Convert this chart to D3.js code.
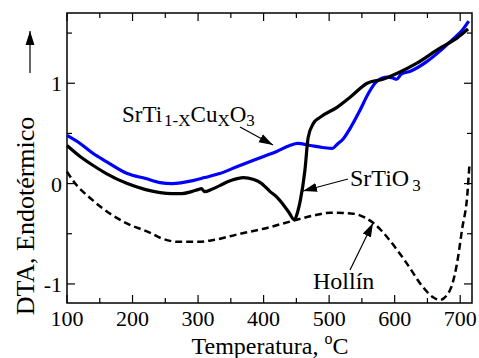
<!DOCTYPE html>
<html>
<head>
<meta charset="utf-8">
<script src="https://cdn.jsdelivr.net/npm/d3@7"></script>
<style>
  body { margin: 0; background: #fff; }
  svg { display: block; font-family: "Liberation Serif", "Times New Roman", serif; }
</style>
</head>
<body>
<div id="chart"></div>
<script>
// temperature (°C) and DTA signal
const cuTemp = [100, 120, 140, 160, 192, 220, 242, 260, 292, 310, 333, 360, 400, 420, 440, 452, 471, 490, 505, 512, 522, 532, 547, 560, 570, 580, 590, 598, 603, 610, 624, 650, 669, 689, 702, 713];
const cuDta  = [0.48, 0.40, 0.30, 0.22, 0.10, 0.05, 0.01, 0.00, 0.03, 0.06, 0.10, 0.17, 0.27, 0.32, 0.38, 0.40, 0.38, 0.36, 0.35, 0.39, 0.45, 0.55, 0.73, 0.90, 1.00, 1.05, 1.06, 1.05, 1.04, 1.09, 1.12, 1.22, 1.32, 1.44, 1.52, 1.62];

const stoTemp = [100, 120, 140, 160, 192, 220, 242, 260, 275, 290, 300, 305, 310, 320, 333, 350, 369, 385, 395, 410, 421, 430, 438, 447, 452, 456, 463, 468, 476, 486, 512, 532, 558, 582, 604, 634, 669, 695, 712];
const stoDta  = [0.38, 0.27, 0.18, 0.10, 0.00, -0.06, -0.09, -0.10, -0.10, -0.08, -0.06, -0.05, -0.08, -0.06, -0.02, 0.03, 0.06, 0.04, 0.01, -0.08, -0.14, -0.21, -0.28, -0.36, -0.28, -0.17, 0.13, 0.46, 0.60, 0.66, 0.76, 0.86, 1.00, 1.04, 1.10, 1.20, 1.35, 1.45, 1.54];

const hollinTemp = [100, 108, 140, 192, 227, 242, 270, 300, 325, 364, 400, 445, 475, 502, 537, 555, 567, 580, 593, 619, 643, 658, 669, 680, 688, 695, 703, 711, 714];
const hollinDta  = [0.12, 0.04, -0.17, -0.40, -0.49, -0.54, -0.58, -0.58, -0.56, -0.50, -0.45, -0.37, -0.32, -0.29, -0.30, -0.34, -0.39, -0.47, -0.57, -0.80, -1.03, -1.13, -1.16, -1.11, -1.00, -0.80, -0.45, -0.10, 0.18];

const xTicks = [100, 200, 300, 400, 500, 600, 700];
const xMinor = [150, 250, 350, 450, 550, 650];
const yTicks = [-1, 0, 1];
const yMinor = [-0.5, 0.5, 1.5];

const W = 479, H = 358;
const mLeft = 67, mRight = 472, mTop = 13, mBottom = 303;

const x = d3.scaleLinear().domain([100, 718]).range([mLeft, mRight]);
const y = d3.scaleLinear().domain([-1.19, 1.70]).range([mBottom, mTop]);

const svg = d3.select("#chart").append("svg")
    .attr("width", W).attr("height", H)
    .attr("viewBox", [0, 0, W, H]);

const defs = svg.append("defs");
defs.append("marker")
    .attr("id", "head")
    .attr("viewBox", "0 0 10 10")
    .attr("refX", 10).attr("refY", 5)
    .attr("markerWidth", 14).attr("markerHeight", 14)
    .attr("markerUnits", "userSpaceOnUse")
    .attr("orient", "auto")
  .append("path")
    .attr("d", "M0,1.8 L10,5 L0,8.2 Z")
    .attr("fill", "#000");

// frame with inward ticks on all four sides
svg.append("rect")
    .attr("x", mLeft).attr("y", mTop)
    .attr("width", mRight - mLeft).attr("height", mBottom - mTop)
    .attr("fill", "none").attr("stroke", "#000").attr("stroke-width", 1.5);

const ticks = svg.append("g").attr("stroke", "#000").attr("stroke-width", 1.2);
xTicks.concat(xMinor).forEach(t => {
  const len = xTicks.includes(t) ? 8 : 5;
  ticks.append("line").attr("x1", x(t)).attr("x2", x(t)).attr("y1", mBottom).attr("y2", mBottom - len);
  ticks.append("line").attr("x1", x(t)).attr("x2", x(t)).attr("y1", mTop).attr("y2", mTop + len);
});
yTicks.concat(yMinor).forEach(t => {
  const len = yTicks.includes(t) ? 8 : 5;
  ticks.append("line").attr("y1", y(t)).attr("y2", y(t)).attr("x1", mLeft).attr("x2", mLeft + len);
  ticks.append("line").attr("y1", y(t)).attr("y2", y(t)).attr("x1", mRight).attr("x2", mRight - len);
});

svg.append("g").selectAll("text")
  .data(xTicks).join("text")
    .attr("x", d => x(d)).attr("y", 326)
    .attr("text-anchor", "middle")
    .attr("font-size", 22)
    .text(d => d);

svg.append("g").selectAll("text")
  .data(yTicks).join("text")
    .attr("x", 62).attr("y", d => y(d) + 8)
    .attr("text-anchor", "end")
    .attr("font-size", 22)
    .text(d => d);

// curves
const line = d3.line().curve(d3.curveMonotoneX);
const series = [
  { t: hollinTemp, v: hollinDta, color: "#000", dash: "7,4", w: 2.5 },
  { t: cuTemp, v: cuDta, color: "#0000ff", dash: null, w: 3.2 },
  { t: stoTemp, v: stoDta, color: "#000", dash: null, w: 3.2 }
];
series.forEach(s => {
  svg.append("path")
      .attr("d", line(s.t.map((t, i) => [x(t), y(s.v[i])])))
      .attr("fill", "none")
      .attr("stroke", s.color)
      .attr("stroke-width", s.w)
      .attr("stroke-dasharray", s.dash)
      .attr("stroke-linejoin", "round");
});

// annotations
const t1 = svg.append("text").attr("x", 122).attr("y", 122).attr("font-size", 23);
t1.append("tspan").text("SrTi");
t1.append("tspan").attr("dx", 2).attr("dy", 4).attr("font-size", 17).text("1-X");
t1.append("tspan").attr("dy", -4).text("Cu");
t1.append("tspan").attr("dy", 4).attr("font-size", 17).text("X");
t1.append("tspan").attr("dy", -4).text("O");
t1.append("tspan").attr("dy", 4).attr("font-size", 17).text("3");

const t2 = svg.append("text").attr("x", 350).attr("y", 186).attr("font-size", 24);
t2.append("tspan").text("SrTiO");
t2.append("tspan").attr("dx", 3).attr("dy", 5).attr("font-size", 17).text("3");

svg.append("text").attr("x", 313).attr("y", 289).attr("font-size", 24).text("Hollín");

const arrows = [
  [240, 127, 273, 145],
  [348, 179, 303, 191],
  [350, 270, 373, 223]
];
svg.append("g").selectAll("line")
  .data(arrows).join("line")
    .attr("x1", d => d[0]).attr("y1", d => d[1])
    .attr("x2", d => d[2]).attr("y2", d => d[3])
    .attr("stroke", "#000").attr("stroke-width", 1.2)
    .attr("marker-end", "url(#head)");

// axis titles
const xt = svg.append("text").attr("x", 270).attr("y", 354)
    .attr("text-anchor", "middle").attr("font-size", 24);
xt.append("tspan").text("Temperatura,  ");
xt.append("tspan").attr("dy", -10).attr("font-size", 16).text("o");
xt.append("tspan").attr("dy", 10).text("C");

svg.append("text")
    .attr("transform", "translate(34,216) rotate(-90)")
    .attr("text-anchor", "middle")
    .attr("font-size", 26)
    .text("DTA, Endotérmico");

svg.append("line")
    .attr("x1", 30).attr("y1", 73).attr("x2", 30).attr("y2", 31)
    .attr("stroke", "#000").attr("stroke-width", 1.2)
    .attr("marker-end", "url(#head)");
</script>
</body>
</html>
